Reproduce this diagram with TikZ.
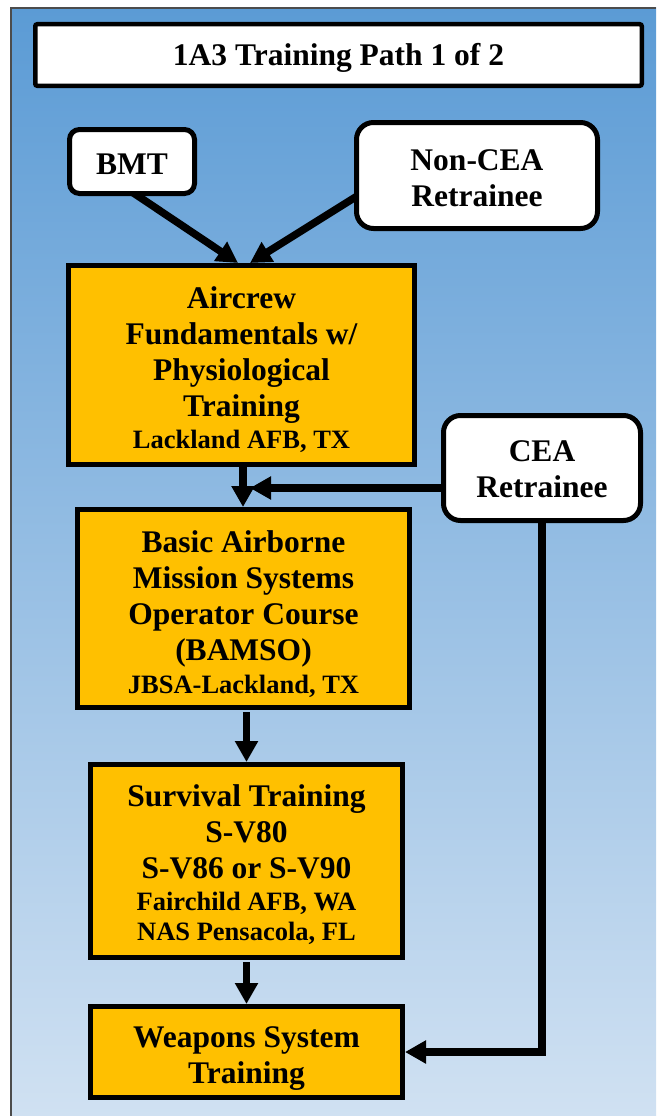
\documentclass[tikz,border=0pt]{standalone}
\usepackage{fontspec}
\setmainfont{Liberation Serif}
\usetikzlibrary{arrows.meta,calc}
\definecolor{bgtop}{RGB}{91,155,213}
\definecolor{bgbot}{RGB}{208,225,242}
\definecolor{gold}{RGB}{255,192,0}
\newcommand\smallf{\fontsize{26.5}{30}\selectfont}
\newcommand\tstrut[1]{\rule{0pt}{#1}}
\pgfdeclarelayer{bglayer}
\pgfdeclarelayer{connlayer}
\pgfsetlayers{bglayer,connlayer,main}
\begin{document}
\begin{tikzpicture}[x=1pt,y=-1pt,
  big/.style={font=\fontsize{31.5}{36}\selectfont\bfseries},
  whitebox/.style={draw=black, fill=white, line width=5pt, align=center, inner sep=0pt, big},
  goldbox/.style={draw=black, fill=gold, line width=5pt, align=center, inner sep=0pt, big},
  conn/.style={line width=7.5pt, -{Triangle[width=22pt,length=21pt]}, line join=miter},
]
\useasboundingbox (0,0) rectangle (656,1116);
\begin{pgfonlayer}{bglayer}
\fill[white] (0,0) rectangle (656,1116);
\shade[top color=bgtop, bottom color=bgbot] (11,8) rectangle (656,1116);
\draw[line width=1.2pt, black!70] (11,1116) -- (11,8) -- (656,8);
\end{pgfonlayer}

\node[whitebox, line width=4.5pt, rounded corners=2pt, minimum width=606.5pt, minimum height=61.5pt] (title) at (338.5,55) {\tstrut{28pt}1A3 Training Path 1 of 2};

\node[whitebox, rounded corners=10pt, minimum width=125pt, minimum height=64pt] (bmt) at (132,161.5) {\tstrut{27pt}BMT};
\node[whitebox, rounded corners=17pt, minimum width=241pt, minimum height=106pt] (noncea) at (477,175.5) {\tstrut{27pt}Non-CEA\\Retrainee};

\node[goldbox, minimum width=346pt, minimum height=199pt] (afund) at (241.5,365) {\tstrut{31pt}Aircrew\\Fundamentals w/\\Physiological\\Training\\[-4pt]{\smallf Lackland AFB, TX}};

\node[whitebox, rounded corners=17pt, minimum width=197pt, minimum height=105pt] (cea) at (542,468) {\tstrut{24pt}CEA\\Retrainee};

\node[goldbox, minimum width=332pt, minimum height=198pt] (bamso) at (243.5,608.5) {\tstrut{34pt}Basic Airborne\\Mission Systems\\Operator Course\\(BAMSO)\\[-3pt]{\smallf JBSA-Lackland, TX}};

\node[goldbox, minimum width=312pt, minimum height=193pt] (surv) at (246.5,861) {\tstrut{30pt}Survival Training\\S-V80\\S-V86 or S-V90\\[-4pt]{\smallf Fairchild AFB, WA}\\[-6pt]{\smallf NAS Pensacola, FL}};

\node[goldbox, minimum width=312pt, minimum height=91pt] (wst) at (246.5,1052) {\tstrut{33pt}Weapons System\\Training};

\coordinate (tipA) at (238,263);
\coordinate (tipB) at (250,263);
\coordinate (join) at (250,488);

\begin{pgfonlayer}{connlayer}
\draw[conn] ([yshift=4pt]bmt.south) -- (tipA);
\draw[conn] ([xshift=4pt,yshift=-20pt]noncea.west) -- (tipB);
\draw[conn] ([xshift=1.5pt]afund.south) -- ([xshift=1.5pt]afund.south |- bamso.north);
\draw[conn] ([xshift=4pt,yshift=-20pt]cea.west) -- (join);
\draw[conn] ([yshift=-2pt]surv.north |- bamso.south) -- (surv.north);
\draw[conn] ([yshift=-2pt]surv.south) -- (wst.north);
\draw[conn] ([yshift=4pt]cea.south) |- (wst.east);
\end{pgfonlayer}
\end{tikzpicture}
\end{document}
